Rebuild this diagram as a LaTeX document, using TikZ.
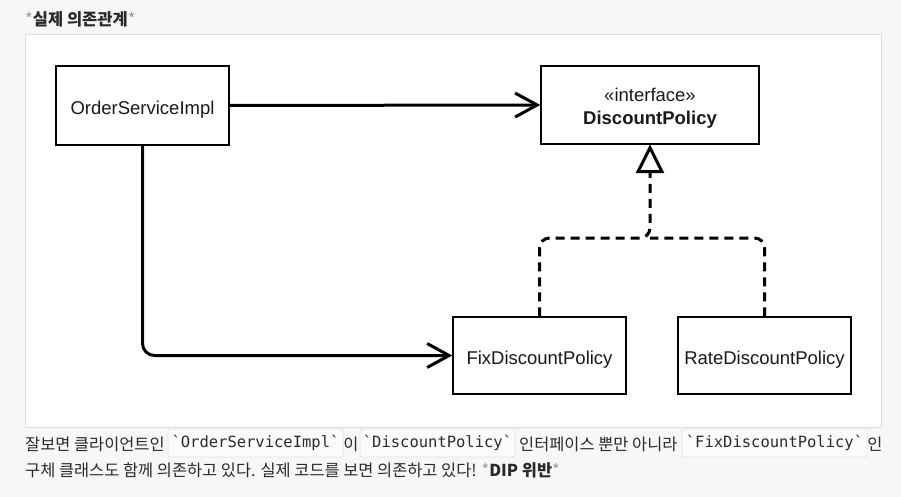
\documentclass[tikz,border=0pt]{standalone}
\usepackage{fontspec}
\setmainfont{Noto Sans CJK KR}
\setmonofont{DejaVu Sans Mono}
\newfontfamily\diafont{Liberation Sans}
\usetikzlibrary{arrows.meta,calc}
\definecolor{pagebg}{HTML}{F7F7F7}
\definecolor{panelborder}{HTML}{DDDDDD}
\definecolor{codebg}{HTML}{FBFBFB}
\definecolor{codeborder}{HTML}{E2E2E2}
\definecolor{bodytext}{HTML}{2A2A2A}
\definecolor{startxt}{HTML}{9A9A9A}
\tikzset{
  umlbox/.style={draw=black, line width=1.5pt, fill=white, inner sep=0pt,
    font=\diafont\fontsize{18.5}{23}\selectfont, text=black!90, align=center},
  onetext/.style={text height=18pt, text depth=0pt},
  dep/.style={line width=3pt, line cap=round, line join=round,
    -{Straight Barb[length=22pt,width=24pt,line width=3pt]}},
  real/.style={line width=3pt, dash pattern=on 9pt off 6pt, rounded corners=10pt},
  codebox/.style={draw=codeborder, fill=codebg, line width=0.8pt, rounded corners=2pt,
    inner sep=0pt, minimum height=28pt, font=\ttfamily\fontsize{15.5}{18}\selectfont, text=bodytext},
  body/.style={inner sep=0pt, font=\fontsize{16.4}{20}\selectfont, text=bodytext}
}
\begin{document}
\begin{tikzpicture}[x=1pt,y=-1pt]
\useasboundingbox (0,0) rectangle (901,497);
\fill[pagebg] (0,0) rectangle (901,497);
% title
\node[body, anchor=base west, font=\fontsize{16.5}{20}\selectfont] (title) at (25,26)
  {\textcolor{startxt}{*}\textbf{실제 의존관계}\textcolor{startxt}{*}};
% panel
\draw[panelborder, fill=white, line width=1pt] (25,35) rectangle (881,427);
% boxes
\node[umlbox, onetext, minimum width=173pt, minimum height=79pt] (order) at (142.5,105.5) {OrderServiceImpl};
\node[umlbox, text height=39pt, text depth=0pt, minimum width=218pt, minimum height=78pt] (disc) at (650,105)
  {«interface»\\\textbf{DiscountPolicy}};
\node[umlbox, onetext, minimum width=173pt, minimum height=77pt] (fix) at (539.5,355.5) {FixDiscountPolicy};
\node[umlbox, onetext, minimum width=173pt, minimum height=77pt] (rate) at (764.5,355.5) {RateDiscountPolicy};
% connectors
\draw[dep] (order.east) -- (disc.west);
\draw[dep, rounded corners=12pt] (order.south) |- (fix.west);
\coordinate (join) at (disc.south |- 0,238);
\coordinate (tribase) at ($(disc.south)+(0,27)$);
\draw[real] (fix.north) |- (join) -- (tribase);
\draw[real] (rate.north) |- (join);
\draw[line width=3pt, fill=white, line join=miter] ($(disc.south)+(0,3)$) coordinate (tri) -- ++(12,24) -- ++(-24,0) -- cycle;
% bottom text
\node[body, anchor=base west] (t1) at (25,450) {잘보면 클라이언트인};
\node[codebox, minimum width=175pt] (c1) at (255.5,443) {`OrderServiceImpl`};
\node[body, anchor=base] (t2) at (351,450) {이};
\node[codebox, minimum width=155pt] (c2) at (437.5,443) {`DiscountPolicy`};
\node[body, anchor=base west] (t3) at (519,450) {인터페이스 뿐만 아니라};
\node[codebox, minimum width=185pt] (c3) at (774.5,443) {`FixDiscountPolicy`};
\node[body, anchor=base] (t4) at (875,450) {인};
\node[body, anchor=base west] (t5) at (25,476)
  {구체 클래스도 함께 의존하고 있다. 실제 코드를 보면 의존하고 있다! \textcolor{startxt}{*}\textbf{DIP 위반}\textcolor{startxt}{*}};
\end{tikzpicture}
\end{document}
